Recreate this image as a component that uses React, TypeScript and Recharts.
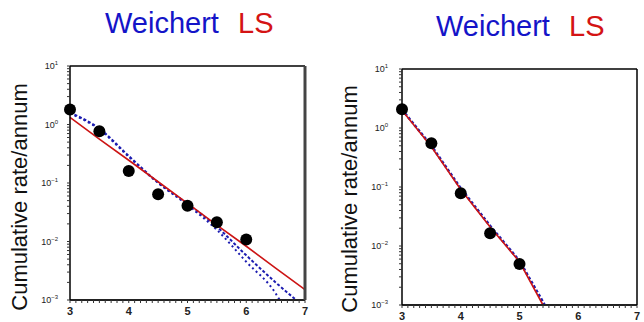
import React from 'react';
import { ComposedChart, Line, Scatter, XAxis, YAxis } from 'recharts';

// ---- axis values ----
const xMajorTicks = [3, 4, 5, 6, 7];
const decadeTicks = [0.001, 0.01, 0.1, 1, 10];
const xDomain = [3, 7];
const yDomain = [0.001, 10];

// ---- left panel ----
const leftObsM = [3, 3.5, 4, 4.5, 5, 5.5, 6];
const leftObsRate = [1.8, 0.77, 0.16, 0.064, 0.041, 0.0214, 0.0108];
const leftLsM = [3, 3.5, 4, 4.5, 5, 5.5, 6, 6.5, 7];
const leftLsRate = [1.32, 0.56, 0.245, 0.105, 0.045, 0.019, 0.0083, 0.0035, 0.0015];
const leftWeiUpperM = [3, 3.5, 4, 4.5, 5, 5.5, 6, 6.5, 6.85];
const leftWeiUpperRate = [1.6, 0.85, 0.29, 0.102, 0.044, 0.0178, 0.0058, 0.002, 0.001];
const leftWeiLowerM = [3, 3.5, 4, 4.5, 5, 5.5, 6, 6.5, 6.57];
const leftWeiLowerRate = [1.55, 0.82, 0.28, 0.1, 0.042, 0.0158, 0.0045, 0.0013, 0.001];

// ---- right panel ----
const rightObsM = [3, 3.5, 4, 4.5, 5];
const rightObsRate = [2.07, 0.55, 0.078, 0.0164, 0.00495];
const rightLsM = [3, 3.5, 4, 4.5, 5, 5.4];
const rightLsRate = [2.0, 0.48, 0.091, 0.021, 0.0054, 0.001];
const rightWeiM = [3, 3.5, 4, 4.5, 5, 5.43];
const rightWeiRate = [2.05, 0.5, 0.095, 0.022, 0.0056, 0.001];

const toRows = (ms: number[], rs: number[]) => ms.map((m, i) => ({ m, rate: rs[i] }));

// minor tick positions (axis decoration)
const yMinorTicks: number[] = [];
decadeTicks.slice(0, 4).forEach((d) => {
  for (let k = 1; k <= 9; k++) yMinorTicks.push(+(d * k).toPrecision(3));
});
yMinorTicks.push(10);
const xMinorTicks: number[] = [];
for (let i = 0; i <= 40; i++) xMinorTicks.push(+(3 + i * 0.1).toFixed(1));

const FONT = 'Liberation Sans, Arial, Helvetica, sans-serif';

const isDecade = (v: number) => Math.abs(Math.log10(v) - Math.round(Math.log10(v))) < 1e-6;

const YTick = (props: any) => {
  const { x, y, payload } = props;
  const v = payload.value;
  if (!isDecade(v)) return <g />;
  const e = Math.round(Math.log10(v));
  const exp = e < 0 ? '\u2212' + Math.abs(e) : String(e);
  return (
    <text x={x} y={y} dy={3} textAnchor="end" fontSize={9} fill="#222" fontFamily={FONT}>
      10<tspan dy={-4} fontSize={6}>{exp}</tspan>
    </text>
  );
};

const XTick = (props: any) => {
  const { x, y, payload } = props;
  const v = payload.value;
  if (!xMajorTicks.some((t) => Math.abs(t - v) < 1e-6)) return <g />;
  return (
    <text x={x} y={y} dy={8} textAnchor="middle" fontSize={11} fontWeight="bold" fill="#222" fontFamily={FONT}>
      {v}
    </text>
  );
};

const Empty = () => <g />;

const Dot = (props: any) => <circle cx={props.cx} cy={props.cy} r={6} fill="#000" />;

type PanelProps = {
  left: number;
  margin: { top: number; right: number; bottom: number; left: number };
  yAxisWidth: number;
  xAxisHeight: number;
  tickMargin: number;
  rightAxisStroke: string;
  rightAxisWidth: number;
  children: React.ReactNode;
};

const Panel = ({ left, margin, yAxisWidth, xAxisHeight, tickMargin, rightAxisStroke, rightAxisWidth, children }: PanelProps) => (
  <div style={{ position: 'absolute', left, top: 0 }}>
    <ComposedChart width={322} height={322} margin={margin}>
      <XAxis
        xAxisId={0}
        dataKey="m"
        type="number"
        domain={xDomain}
        ticks={xMinorTicks}
        interval={0}
        tickSize={3}
        tickMargin={4}
        height={xAxisHeight}
        tick={<XTick />}
        axisLine={{ stroke: '#222', strokeWidth: 2 }}
        tickLine={{ stroke: '#333' }}
      />
      <XAxis
        xAxisId="top"
        orientation="top"
        dataKey="m"
        type="number"
        domain={xDomain}
        ticks={xMinorTicks}
        interval={0}
        tickSize={2}
        height={6}
        tick={<Empty />}
        axisLine={{ stroke: '#000', strokeWidth: 1.5 }}
        tickLine={{ stroke: '#333' }}
      />
      <YAxis
        yAxisId={0}
        dataKey="rate"
        type="number"
        scale="log"
        domain={yDomain}
        ticks={yMinorTicks}
        interval={0}
        tickSize={3}
        tickMargin={tickMargin}
        width={yAxisWidth}
        tick={<YTick />}
        axisLine={{ stroke: '#000', strokeWidth: 1.5 }}
        tickLine={{ stroke: '#333' }}
      />
      <YAxis
        yAxisId="right"
        orientation="right"
        dataKey="rate"
        type="number"
        scale="log"
        domain={yDomain}
        ticks={yMinorTicks}
        interval={0}
        tickSize={3}
        width={6}
        tick={<Empty />}
        axisLine={{ stroke: rightAxisStroke, strokeWidth: rightAxisWidth }}
        tickLine={{ stroke: '#333' }}
      />
      {children}
    </ComposedChart>
  </div>
);

const BLUE = '#1c1cb0';
const RED = '#cc1414';

export default function App() {
  return (
    <div style={{ position: 'absolute', left: 0, top: 0, width: 644, height: 322, background: '#fff', overflow: 'hidden' }}>
      <Panel
        left={0}
        margin={{ top: 60, right: 11, bottom: 2, left: 0 }}
        yAxisWidth={70}
        xAxisHeight={20}
        tickMargin={9}
        rightAxisStroke="#444"
        rightAxisWidth={3}
      >
        <Line type="monotone" data={toRows(leftWeiLowerM, leftWeiLowerRate)} dataKey="rate" stroke={BLUE} strokeWidth={2} strokeDasharray="2 3" dot={false} isAnimationActive={false} />
        <Line type="monotone" data={toRows(leftWeiUpperM, leftWeiUpperRate)} dataKey="rate" stroke={BLUE} strokeWidth={2} strokeDasharray="3 2" dot={false} isAnimationActive={false} />
        <Line data={toRows(leftLsM, leftLsRate)} dataKey="rate" stroke={RED} strokeWidth={1.6} dot={false} isAnimationActive={false} />
        <Scatter data={toRows(leftObsM, leftObsRate)} dataKey="rate" shape={<Dot />} isAnimationActive={false} />
      </Panel>
      <Panel
        left={322}
        margin={{ top: 63, right: 1, bottom: 0, left: 0 }}
        yAxisWidth={80}
        xAxisHeight={17}
        tickMargin={11}
        rightAxisStroke="#000"
        rightAxisWidth={1.5}
      >
        <Line data={toRows(rightWeiM, rightWeiRate)} dataKey="rate" stroke={BLUE} strokeWidth={2.5} strokeDasharray="3 2" dot={false} isAnimationActive={false} />
        <Line data={toRows(rightLsM, rightLsRate)} dataKey="rate" stroke={RED} strokeWidth={1.6} dot={false} isAnimationActive={false} />
        <Scatter data={toRows(rightObsM, rightObsRate)} dataKey="rate" shape={<Dot />} isAnimationActive={false} />
      </Panel>
      <svg width={644} height={322} style={{ position: 'absolute', left: 0, top: 0, pointerEvents: 'none' }}>
        <g fontFamily={FONT} fontSize={29}>
          <text x={105} y={33} fill="#1414c8">Weichert</text>
          <text x={238} y={33} fill="#d41414">LS</text>
          <text x={436} y={36} fill="#1414c8">Weichert</text>
          <text x={569} y={36} fill="#d41414">LS</text>
        </g>
        <g fontFamily={FONT} fontSize={22} fill="#111">
          <text transform="translate(27,197) rotate(-90)" textAnchor="middle">Cumulative rate/annum</text>
          <text transform="translate(357,199) rotate(-90)" textAnchor="middle">Cumulative rate/annum</text>
        </g>
      </svg>
    </div>
  );
}
